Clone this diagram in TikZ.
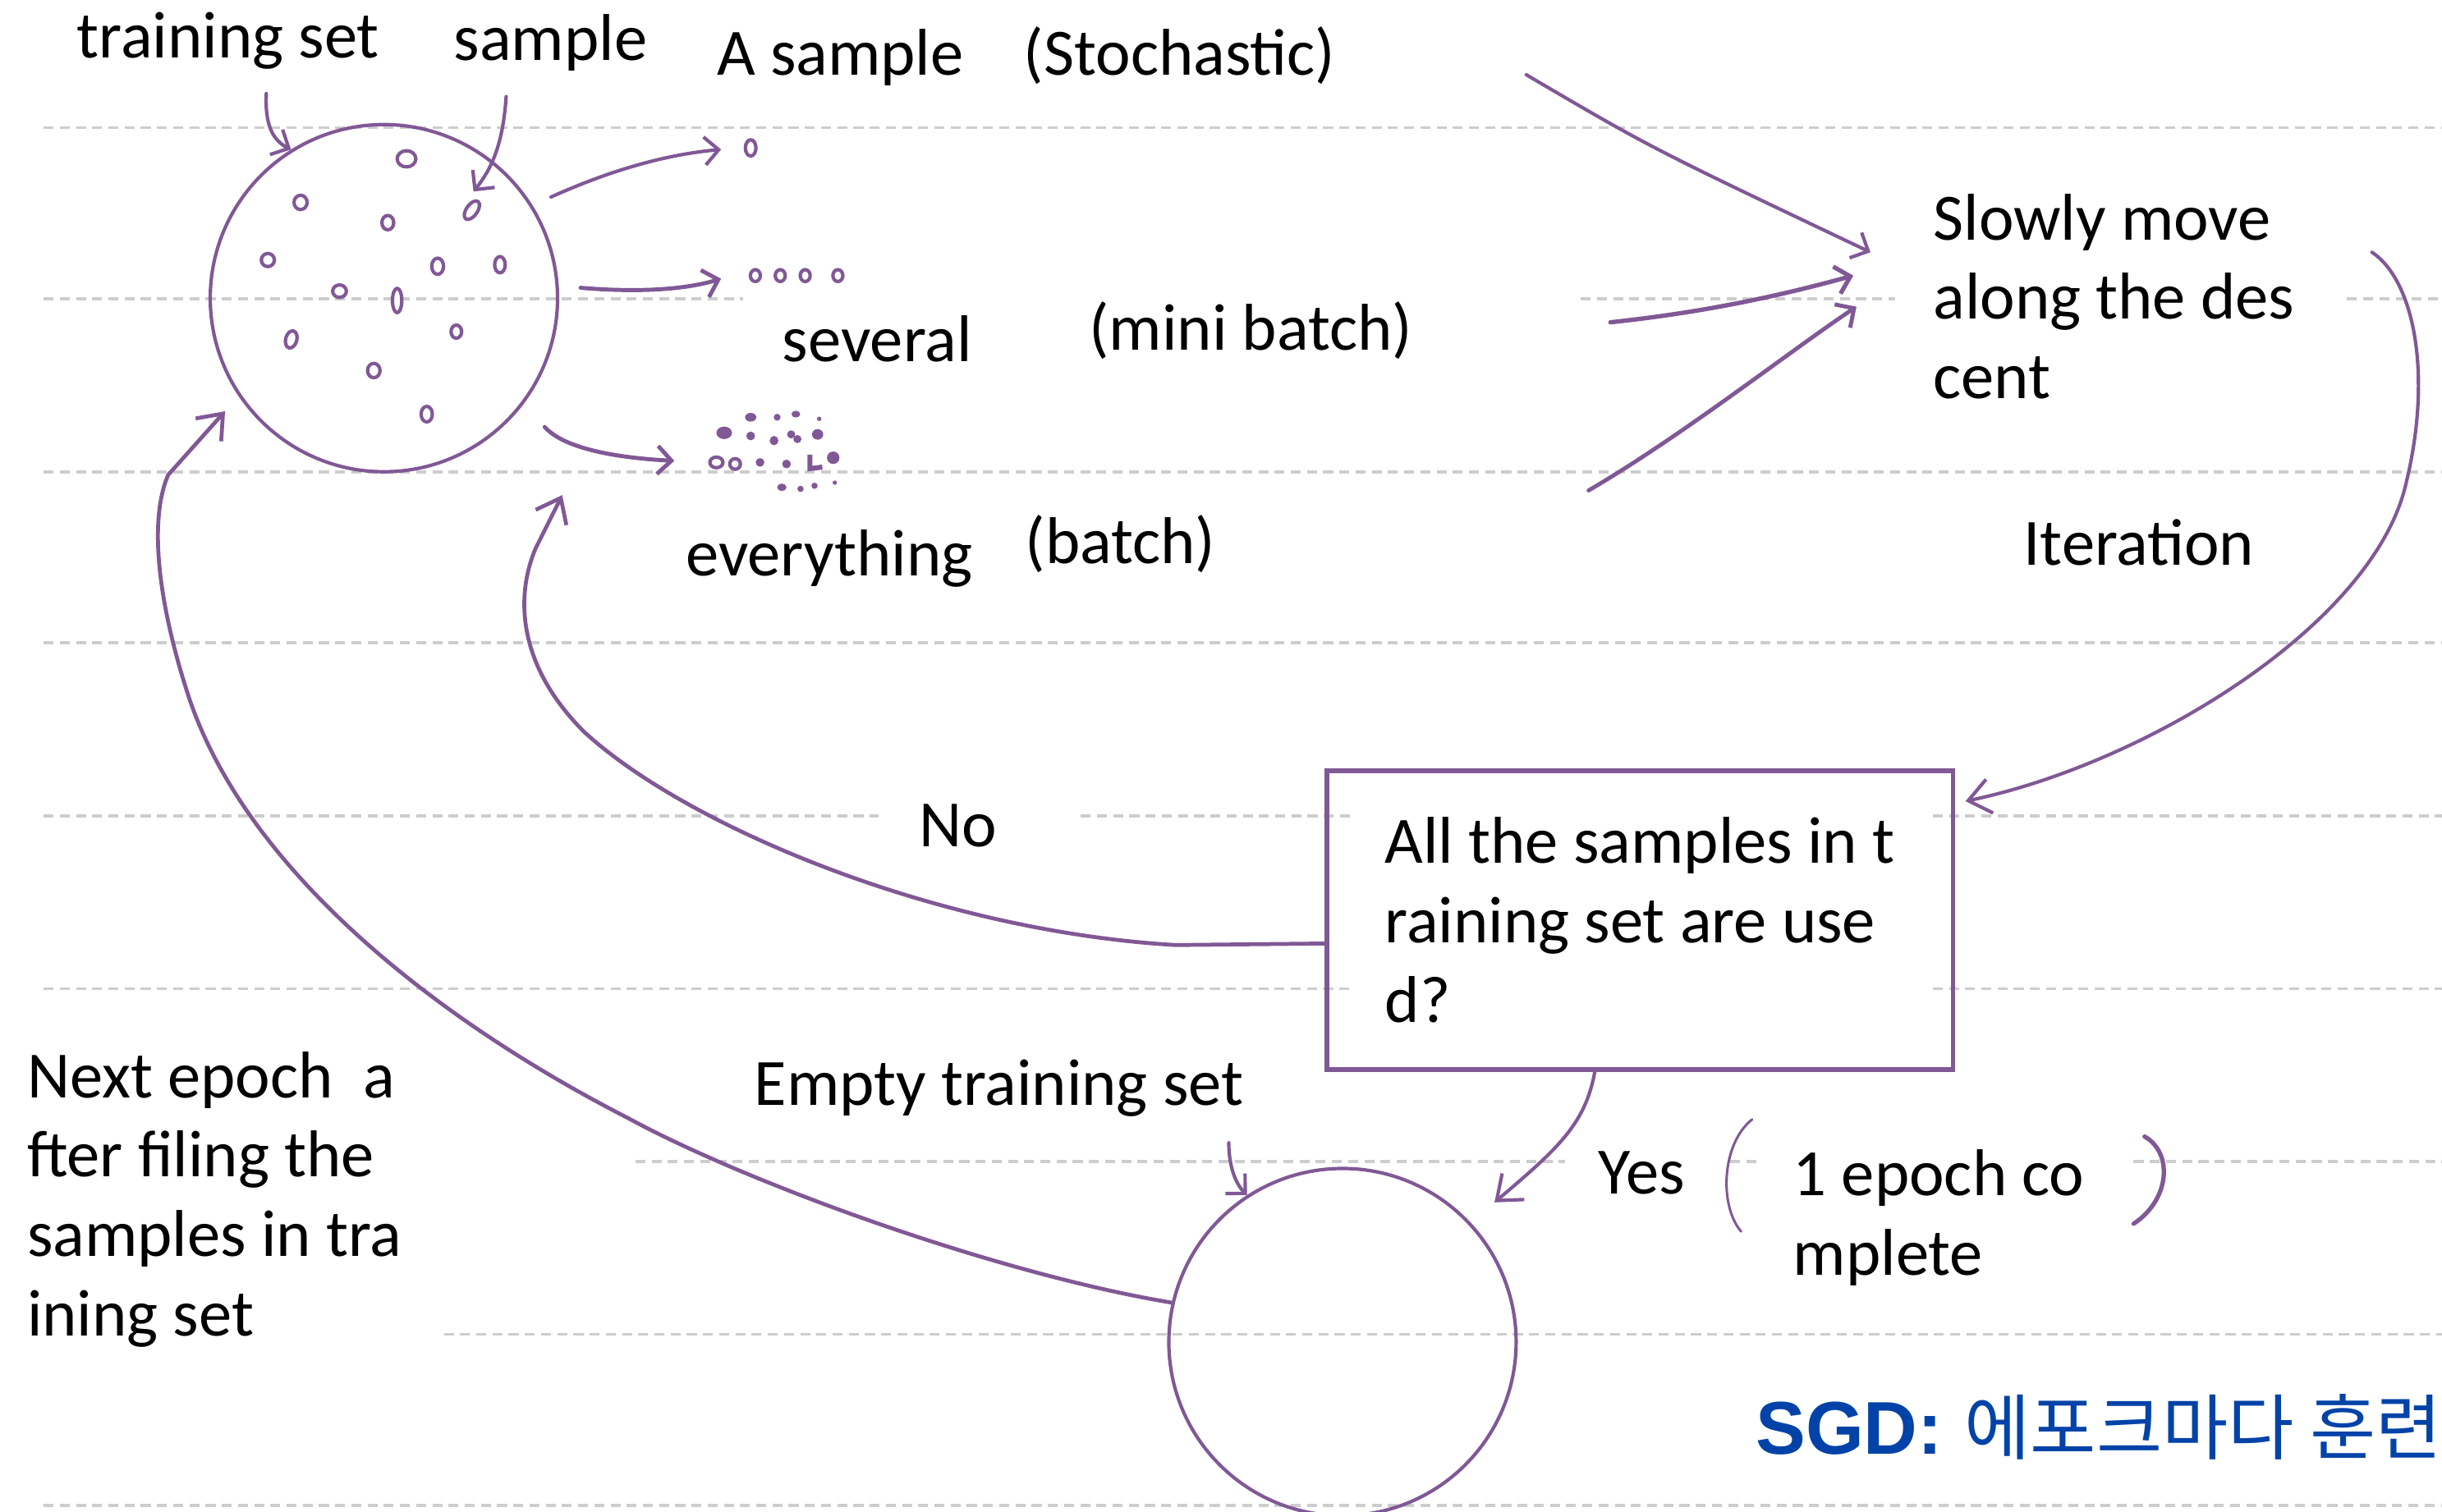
\documentclass[tikz,border=0pt]{standalone}
\usepackage{fontspec}
\setmainfont{Carlito}
\newfontfamily\krfont{Noto Sans CJK KR}
\newfontfamily\sgdfont{Liberation Sans}
\usetikzlibrary{arrows.meta}
\definecolor{penc}{RGB}{129,88,150}
\definecolor{rulec}{RGB}{205,205,205}
\definecolor{sgdblue}{RGB}{3,67,168}
\begin{document}
\begin{tikzpicture}[x=0.5pt,y=-0.5pt,
  rule/.style={draw=rulec,line width=1pt,dash pattern=on 3.2pt off 2pt},
  pen/.style={draw=penc,line width=1.1pt,line cap=round,line join=round},
  tipS/.style={-{Straight Barb[length=4.5pt,width=9pt]}},
  tipL/.style={-{Straight Barb[length=7pt,width=11pt]}},
  lbl/.style={inner sep=0pt,anchor=base west,text=black,
    font=\fontsize{21.25pt}{25.5pt}\selectfont},
  setcircle/.style={pen,circle,minimum size=111.5pt,inner sep=0pt},
  dotpen/.style={draw=penc,line width=1.1pt}]
\useasboundingbox (0,0) rectangle (1568,971);

% ruled notebook lines
\foreach \y/\a/\b in {82/28/1568, 192/28/477, 192/1015/1217, 192/1507/1568,
    303/28/1568, 413/28/1568, 524/28/564, 524/694/867, 524/1241/1568,
    635/28/867, 635/1241/1568, 746/408/1005, 746/1111/1130, 746/1370/1568,
    857/285/1568, 967/28/1568}
  \draw[rule] (\a,\y) -- (\b,\y);

% the two sets
\node[setcircle] (pool) at (246.5,191.5) {};
\node[setcircle] (empty) at (862,862) {};

% samples inside the training set
\foreach \x/\y/\rx/\ry in {261/102/3.0/2.6, 193/130/2.1/2.3, 249/143/1.9/2.3,
    172/167/2.1/2.1, 281/171/1.9/2.6, 321/170/1.7/2.6, 218/187/2.2/2.0,
    293/213/1.7/2.1, 240/238/2.0/2.3, 274/266/1.8/2.5}
  \draw[dotpen] (\x,\y) ellipse [x radius=\rx pt, y radius=\ry pt];
\draw[dotpen] (255,193) ellipse [x radius=1.5pt, y radius=3.9pt];
\draw[dotpen] (187,218) ellipse [x radius=1.8pt, y radius=2.8pt, rotate=-15];
\draw[dotpen] (303,135) ellipse [x radius=1.8pt, y radius=3.4pt, rotate=-35];

% one sample, several samples, everything
\draw[dotpen] (482,95) ellipse [x radius=1.7pt, y radius=2.6pt];
\foreach \x in {485,501,517,538}
  \draw[dotpen] (\x,177) ellipse [x radius=1.6pt, y radius=1.9pt];
\foreach \x/\y/\rx/\ry in {482/268/1.8/1.4, 499/268/1.1/1.1, 511/266/1.4/1.1,
    526/269/0.7/0.7, 465/278/2.5/2.0, 482/280/1.4/1.4, 497/283/1.4/1.5,
    508/279/1.3/1.3, 512/282/1.3/1.3, 525/279/1.8/1.7, 488/297/1.4/1.4,
    505/298/1.4/1.4, 535/294/2.0/2.0, 502/313/1.5/1.2, 514/314/1.0/1.0,
    523/312/1.0/1.0, 536/310/0.7/0.7}
  \fill[penc] (\x,\y) ellipse [x radius=\rx pt, y radius=\ry pt];
\draw[dotpen] (460,297) ellipse [x radius=2.1pt, y radius=1.7pt];
\draw[dotpen] (472,298) ellipse [x radius=1.7pt, y radius=1.7pt];
\draw[dotpen,line width=1.6pt] (520,292) -- (520,301) -- (528,300);

% labels
\node[lbl] (lbltrain) at (49,37) {training set};
\node[lbl] (lblsample) at (291,39) {sample};
\node[lbl] (lblone) at (460,48) {A sample};
\node[lbl] (lblstoch) at (657,48) {(Stochastic)};
\node[lbl] (lblseveral) at (502,232) {several};
\node[lbl] (lblmini) at (699,225) {(mini batch)};
\node[lbl] (lblall) at (440,370) {everything};
\node[lbl] (lblbatch) at (658,362) {(batch)};
\node[lbl,align=left] (slowly) at (1241,256) {Slowly move\\along the des\\cent};
\node[lbl] (lbliter) at (1299,363) {Iteration};
\node[lbl] (lblno) at (590,544) {No};
\node[lbl] (lblempty) at (484,710) {Empty training set};
\node[lbl,align=left] (lblnext) at (17,858)
  {Next epoch\ \ a\\fter filing the\\samples in tra\\ining set};
\node[lbl] (lblyes) at (1026,767) {Yes};
\node[lbl,align=left] (lblepoch) at (1151,819) {1 epoch co\\mplete};
\node[inner sep=0pt,anchor=base west,text=sgdblue,
  font=\fontsize{24pt}{28pt}\selectfont] (lblsgd) at (1127,934)
  {{\sgdfont\bfseries SGD:}\hspace{7pt}{\krfont\fontsize{23pt}{28pt}\selectfont 에포크마다 훈련}};

% decision box
\node[pen,line width=1.4pt,line join=miter,rectangle,minimum width=201pt,
  minimum height=96pt,align=left,
  font=\fontsize{21.25pt}{25.5pt}\selectfont] (check) at (1053,591)
  {All the samples in t\\raining set are use\\d?};

% free ends of the hand-drawn arrows
\coordinate (trainTail) at (171,60);
\coordinate (sampleTail) at (325,62);
\coordinate (sampleHead) at (304,123);
\coordinate (oneHead) at (463,96);
\coordinate (fewHead) at (463,179);
\coordinate (allHead) at (433,296);
\coordinate (stochTail) at (980,48);
\coordinate (miniTail) at (1034,207);
\coordinate (batchTail) at (1020,315);
\coordinate (moveA) at (1201,162);
\coordinate (moveB) at (1190,177);
\coordinate (moveC) at (1192,197);
\coordinate (iterTail) at (1523,162);
\coordinate (noTip) at (361,318);
\coordinate (emptyTail) at (789,734);

% pointers from the labels
\draw[pen,tipS] (trainTail) .. controls (170,80) and (175,90) .. (pool.122);
\draw[pen,tipS] (sampleTail) .. controls (323,92) and (316,108) .. (sampleHead);
\draw[pen,tipS] (emptyTail) .. controls (789,752) and (795,762) .. (empty.123);

% drawing from the training set
\draw[pen,tipS,shorten <=6.5pt] (pool.32) .. controls (395,108) and (430,99) .. (oneHead);
\draw[pen,tipS,line width=1.3pt,shorten <=7pt] (pool.4) .. controls (410,188) and (440,186) .. (fewHead);
\draw[pen,tipS,line width=1.3pt,shorten <=10pt] (pool.-37) .. controls (362,288) and (395,294) .. (allHead);

% each choice moves along the descent
\draw[pen,tipS] (stochTail) .. controls (1060,95) .. (moveA);
\draw[pen,tipS,line width=1.4pt] (miniTail) .. controls (1100,200) and (1150,188) .. (moveB);
\draw[pen,tipS,line width=1.3pt] (batchTail) .. controls (1080,280) and (1150,225) .. (moveC);

% iteration loop
\draw[pen,tipL] (iterTail) .. controls (1550,180) and (1562,240) .. (1545,310)
  .. controls (1525,400) and (1380,490) .. ([xshift=3.3pt,yshift=-10.5pt]check.north east);
\draw[pen,tipL,line width=1.25pt] ([yshift=-7.5pt]check.west) -- (755,607)
  .. controls (600,598) and (440,530) .. (375,470)
  .. controls (330,425) and (332,380) .. (344,352) -- (noTip);
\draw[pen,tipL,shorten >=10pt] ([xshift=-14.5pt]check.south)
  .. controls (1018,722) and (1000,738) .. (empty.43);
\draw[pen,tipL,line width=1.25pt,shorten >=6.5pt] (empty.167)
  .. controls (640,818) and (480,760) .. (403,718)
  .. controls (280,655) and (160,560) .. (122,450)
  .. controls (102,390) and (95,335) .. (108,305) -- (pool.214);

% brackets round the epoch note
\draw[pen,line width=0.8pt] (1125,719) .. controls (1105,735) and (1104,775) .. (1118,791);
\draw[pen,line width=1.4pt] (1377,730) .. controls (1395,740) and (1394,770) .. (1370,786);
\end{tikzpicture}
\end{document}
